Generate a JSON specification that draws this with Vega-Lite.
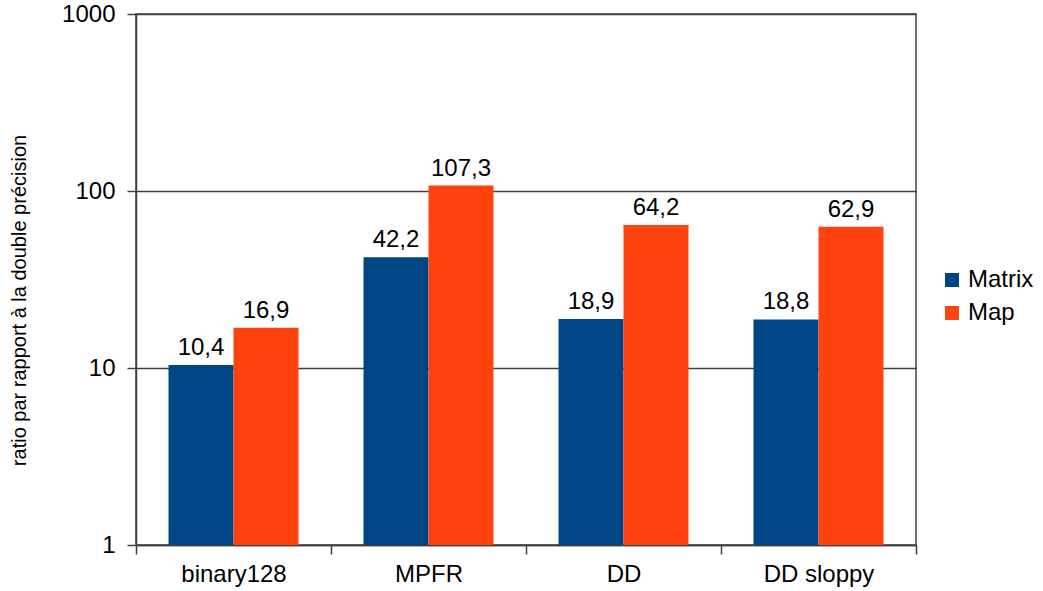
{
  "$schema": "https://vega.github.io/schema/vega-lite/v6.json",
  "width": 780,
  "height": 531,
  "autosize": {"type": "none"},
  "padding": {"left": 136, "top": 14, "right": 127, "bottom": 46},
  "config": {
    "locale": {"number": {"decimal": ",", "thousands": ".", "grouping": [3], "currency": ["", " €"]}},
    "font": "Liberation Sans",
    "view": {"stroke": "#404040", "strokeWidth": 1.5},
    "axis": {"domainColor": "#404040", "tickColor": "#404040", "gridColor": "#404040", "labelColor": "#000000", "titleColor": "#000000", "labelFont": "Liberation Sans", "titleFont": "Liberation Sans"}
  },
  "data": {"values": [
    {"format": "binary128", "series": "Matrix", "ratio": 10.4},
    {"format": "binary128", "series": "Map", "ratio": 16.9},
    {"format": "MPFR", "series": "Matrix", "ratio": 42.2},
    {"format": "MPFR", "series": "Map", "ratio": 107.3},
    {"format": "DD", "series": "Matrix", "ratio": 18.9},
    {"format": "DD", "series": "Map", "ratio": 64.2},
    {"format": "DD sloppy", "series": "Matrix", "ratio": 18.8},
    {"format": "DD sloppy", "series": "Map", "ratio": 62.9}
  ]},
  "encoding": {
    "x": {
      "field": "format", "type": "nominal",
      "sort": ["binary128", "MPFR", "DD", "DD sloppy"],
      "scale": {"paddingInner": 0, "paddingOuter": 0},
      "axis": {"title": null, "labelAngle": 0, "labelFontSize": 24, "labelPadding": 8, "tickBand": "extent", "tickSize": 9, "tickWidth": 1.5, "domainWidth": 1.5, "grid": false}
    },
    "xOffset": {"field": "series", "type": "nominal", "sort": ["Matrix", "Map"], "scale": {"paddingInner": 0, "paddingOuter": 0.5}},
    "y": {
      "field": "ratio", "type": "quantitative",
      "scale": {"type": "log", "domain": [1, 1000]},
      "axis": {"title": "ratio par rapport à la double précision", "titleFontSize": 20, "titleFontWeight": "normal", "titlePadding": 32, "titleY": 286, "values": [1, 10, 100, 1000], "format": "d", "labelFontSize": 24, "labelPadding": 12, "tickSize": 9, "tickWidth": 1.5, "domainWidth": 1.5, "grid": true, "gridWidth": 1.5, "gridOpacity": 1}
    }
  },
  "layer": [
    {
      "mark": {"type": "bar"},
      "encoding": {
        "y2": {"datum": 1},
        "color": {
          "field": "series", "type": "nominal", "sort": ["Matrix", "Map"],
          "scale": {"domain": ["Matrix", "Map"], "range": ["#004586", "#ff420e"]},
          "legend": {"title": null, "orient": "none", "legendX": 804, "legendY": 254, "symbolType": "square", "symbolSize": 196, "symbolStrokeWidth": 0, "symbolOpacity": 1, "labelFontSize": 24, "labelFont": "Liberation Sans", "labelColor": "#000000", "rowPadding": 9, "labelOffset": 4}
        }
      }
    },
    {
      "mark": {"type": "text", "baseline": "alphabetic", "dy": -10, "fontSize": 24, "color": "#000000", "font": "Liberation Sans"},
      "encoding": {"text": {"field": "ratio", "type": "quantitative", "format": ".1f"}}
    }
  ]
}
